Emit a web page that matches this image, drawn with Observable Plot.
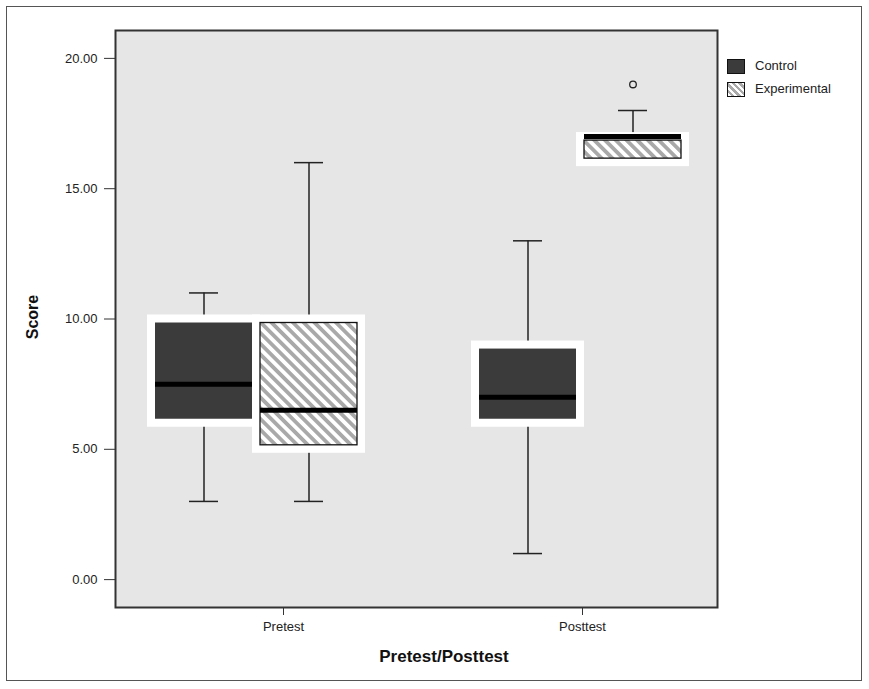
<!DOCTYPE html>
<html>
<head>
<meta charset="utf-8">
<script src="https://cdn.jsdelivr.net/npm/d3@7"></script>
<script src="https://cdn.jsdelivr.net/npm/@observablehq/plot@0.6"></script>
<style>
  body { margin: 0; background: #fff; font-family: "Liberation Sans", Arial, sans-serif; }
  #wrap { position: relative; width: 869px; height: 689px; overflow: hidden; }
  #chart { position: absolute; left: 0; top: 0; }
  .outer { position: absolute; left: 6px; top: 6px; width: 856px; height: 675px; box-sizing: border-box; border: 1.5px solid #555; pointer-events: none; }
  .title { position: absolute; font-weight: bold; color: #111; white-space: nowrap; }
  .leg { position: absolute; left: 727px; font-size: 13px; color: #222; }
  .sw { position: absolute; left: 0; width: 18px; height: 15px; box-sizing: border-box; border: 1.5px solid #111; }
  .lt { position: absolute; left: 28px; top: -1px; white-space: nowrap; }
</style>
</head>
<body>
<div id="wrap">
  <div id="chart"></div>
  <div class="outer"></div>
  <div class="title" style="left:33px;top:317px;font-size:16px;transform:translate(-50%,-50%) rotate(-90deg);">Score</div>
  <div class="title" style="left:444px;top:657px;font-size:17px;transform:translate(-50%,-50%);">Pretest/Posttest</div>
  <div class="leg" style="top:59px;"><div class="sw" style="background:#3b3b3b;"></div><div class="lt">Control</div></div>
  <div class="leg" style="top:82px;"><div class="sw" style="background:repeating-linear-gradient(45deg,#fff 0 2.2px,#a9a9a9 2.2px 4.6px);"></div><div class="lt">Experimental</div></div>
</div>
<script>
// ---- data ----
const groups = ["Pretest", "Posttest"];
const seriesNames = ["Control", "Experimental"];
const boxGroup = ["Pretest", "Pretest", "Posttest", "Posttest"];
const boxSeries = ["Control", "Experimental", "Control", "Experimental"];
const whiskerLow = [3, 3, 1, 16];
const quartile1 = [6, 5, 6, 16];
const medians = [7.5, 6.5, 7, 17];
const quartile3 = [10, 10, 9, 17];
const whiskerHigh = [11, 16, 13, 18];
const outlierGroup = ["Posttest"];
const outlierSeries = ["Experimental"];
const outlierValue = [19];
const yTicks = [0, 5, 10, 15, 20];

const rows = boxGroup.map((g, i) => ({
  group: g, series: boxSeries[i], lo: whiskerLow[i], q1: quartile1[i],
  med: medians[i], q3: quartile3[i], hi: whiskerHigh[i]
}));
const outliers = outlierValue.map((v, i) => ({group: outlierGroup[i], series: outlierSeries[i], value: v}));

const geo = {
  Control: {dx: -52.5, inL: 57, inR: 162, fill: "#3b3b3b"},
  Experimental: {dx: 52.5, inL: 162, inR: 57, fill: "url(#hatch)"}
};

const marks = [Plot.frame({fill: "#e6e6e6"})];
for (const s of seriesNames) {
  const g = geo[s];
  const d = rows.filter(r => r.series === s);
  marks.push(
    Plot.ruleX(d, {x: "group", y1: "lo", y2: "hi", dx: g.dx, stroke: "#222", strokeWidth: 1.5}),
    Plot.tickY(d, {x: "group", y: "hi", insetLeft: g.inL + 38, insetRight: g.inR + 38, stroke: "#222", strokeWidth: 1.5}),
    Plot.tickY(d.filter(r => r.lo < r.q1), {x: "group", y: "lo", insetLeft: g.inL + 38, insetRight: g.inR + 38, stroke: "#222", strokeWidth: 1.5})
  );
}
for (const s of seriesNames) {
  const g = geo[s];
  const d = rows.filter(r => r.series === s);
  marks.push(Plot.barY(d, {x: "group", y1: "q1", y2: "q3", insetLeft: g.inL, insetRight: g.inR, fill: g.fill, stroke: "white", strokeWidth: 8}));
  if (s === "Experimental") {
    marks.push(Plot.barY(d, {x: "group", y1: "q1", y2: "q3", insetLeft: g.inL + 4, insetRight: g.inR + 4, insetTop: 4, insetBottom: 4, fill: "none", stroke: "#111", strokeWidth: 1.3}));
  }
  marks.push(Plot.tickY(d, {x: "group", y: "med", insetLeft: g.inL + 4, insetRight: g.inR + 4, stroke: "#000", strokeWidth: 5}));
  marks.push(Plot.dot(outliers.filter(o => o.series === s), {x: "group", y: "value", dx: g.dx, r: 3.3, stroke: "#222", fill: "none", strokeWidth: 1.3}));
}
marks.push(
  Plot.axisY(yTicks, {tickFormat: d3.format(".2f"), tickSize: 11, tickPadding: 7, label: null, stroke: "#333", fill: "#222", fontSize: 13}),
  Plot.axisX(["Pretest"], {dx: 27, tickSize: 8, tickPadding: 6, label: null, stroke: "#333", fill: "#222", fontSize: 13}),
  Plot.axisX(["Posttest"], {dx: 2, tickSize: 8, tickPadding: 6, label: null, stroke: "#333", fill: "#222", fontSize: 13}),
  Plot.frame({stroke: "#333", strokeWidth: 2})
);

const chart = Plot.plot({
  width: 869, height: 689,
  marginLeft: 115, marginRight: 152, marginTop: 30, marginBottom: 82,
  style: {fontFamily: "Liberation Sans, Arial, sans-serif", fontSize: "13px", background: "transparent", color: "#222"},
  x: {type: "band", domain: groups, range: [94, 742], padding: 0, axis: null},
  y: {domain: [-1.07, 21.07], axis: null},
  marks
});

const defs = document.createElementNS("http://www.w3.org/2000/svg", "defs");
defs.innerHTML = '<pattern id="hatch" patternUnits="userSpaceOnUse" width="7.6" height="7.6" patternTransform="rotate(-45)">' +
  '<rect width="7.6" height="7.6" fill="#ffffff"/><rect width="3.8" height="7.6" fill="#a9a9a9"/></pattern>';
chart.insertBefore(defs, chart.firstChild);
document.getElementById("chart").appendChild(chart);
</script>
</body>
</html>
